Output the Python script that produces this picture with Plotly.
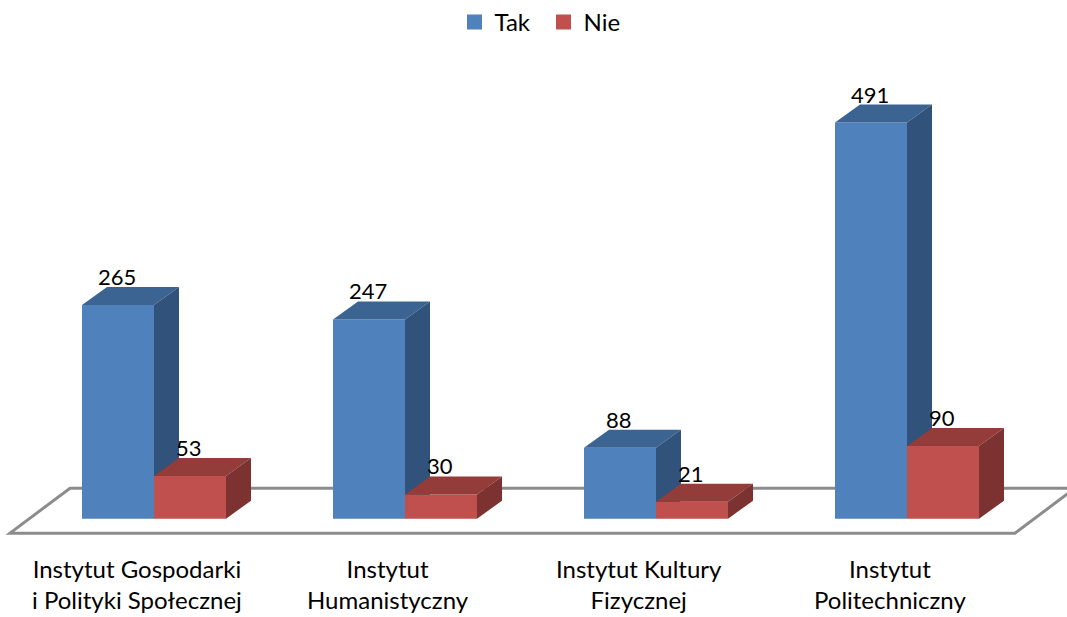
import plotly.graph_objects as go

# --- data ---
categories = [
    "Instytut Gospodarki<br>i Polityki Społecznej",
    "Instytut<br>Humanistyczny",
    "Instytut Kultury<br>Fizycznej",
    "Instytut<br>Politechniczny",
]
series_names = ["Tak", "Nie"]
tak_values = [265, 247, 88, 491]
nie_values = [53, 30, 21, 90]

# --- styling / geometry (axis units) ---
FONT = "Lato"
W, H = 1067, 617
PX_X = 251.0            # pixels per category step
PX_Y = 0.808            # pixels per value unit
BASE_PX = 518.5         # pixel row of value 0
BAR_W = 72 / PX_X       # bar width in category units
DEPTH_X = 25 / PX_X     # 3D depth offset (x)
DEPTH_Y = 18 / PX_Y     # 3D depth offset (y)

x0 = -154 / PX_X
x_range = [x0, x0 + W / PX_X]
y_range = [-(H - BASE_PX) / PX_Y, BASE_PX / PX_Y]

colors = {
    "Tak": {"front": "#4F81BD", "top": "#3C6492", "side": "#31527A"},
    "Nie": {"front": "#C0504D", "top": "#943C3A", "side": "#7B3230"},
}
offsets = {"Tak": -BAR_W, "Nie": 0.0}

fig = go.Figure()

# floor plane outline, drawn beneath all traces
floor_front_y = -(533 - BASE_PX) / PX_Y
floor_back_y = (BASE_PX - 488) / PX_Y
floor_fl = -144 / PX_X
floor_fr = 861 / PX_X
floor_dx = 60 / PX_X
floor_pts = [(floor_fl, floor_front_y), (floor_fl + floor_dx, floor_back_y),
             (floor_fr + floor_dx, floor_back_y), (floor_fr, floor_front_y)]
path = "M " + " L ".join(f"{px},{py}" for px, py in floor_pts) + " Z"
fig.add_shape(type="path", path=path, xref="x", yref="y", layer="below",
              line=dict(color="#8C8C8C", width=3), fillcolor="rgba(0,0,0,0)")


def add_series(name, values, xa, ya):
    c = colors[name]
    off = offsets[name]
    xs = [i + off for i in range(len(values))]
    # front faces as bars
    fig.add_trace(go.Bar(
        x=[i for i in range(len(values))], y=values, base=0,
        width=BAR_W, offset=off, marker=dict(color=c["front"], line=dict(width=0)),
        name=name, showlegend=False, xaxis=xa, yaxis=ya, hoverinfo="skip",
    ))
    # top faces
    tx, ty = [], []
    for xl, v in zip(xs, values):
        xr = xl + BAR_W
        tx += [xl, xr, xr + DEPTH_X, xl + DEPTH_X, xl, None]
        ty += [v, v, v + DEPTH_Y, v + DEPTH_Y, v, None]
    fig.add_trace(go.Scatter(
        x=tx, y=ty, mode="none", fill="toself", fillcolor=c["top"],
        showlegend=False, hoverinfo="skip", xaxis=xa, yaxis=ya,
    ))
    # side faces
    sx, sy = [], []
    for xl, v in zip(xs, values):
        xr = xl + BAR_W
        sx += [xr, xr, xr + DEPTH_X, xr + DEPTH_X, xr, None]
        sy += [0, v, v + DEPTH_Y, DEPTH_Y, 0, None]
    fig.add_trace(go.Scatter(
        x=sx, y=sy, mode="none", fill="toself", fillcolor=c["side"],
        showlegend=False, hoverinfo="skip", xaxis=xa, yaxis=ya,
    ))
    # value labels at the back-left of each top face
    for xl, v in zip(xs, values):
        fig.add_annotation(
            x=xl + DEPTH_X + 10 / PX_X, y=v + DEPTH_Y, xref=xa, yref=ya,
            text=str(v), showarrow=False, yanchor="bottom", xanchor="center",
            yshift=-5, font=dict(family=FONT, size=22, color="black"),
        )
    # legend entry
    fig.add_trace(go.Scatter(
        x=[None], y=[None], mode="markers", name=name,
        marker=dict(symbol="square", size=15, color=c["front"]),
        xaxis=xa, yaxis=ya,
    ))


add_series("Tak", tak_values, "x", "y")
add_series("Nie", nie_values, "x2", "y2")

# category labels below the floor
for i, cat in enumerate(categories):
    fig.add_annotation(
        x=i - 17.5 / PX_X, y=-(552 - BASE_PX) / PX_Y, xref="x", yref="y",
        text=cat, showarrow=False, yanchor="top", xanchor="center",
        font=dict(family=FONT, size=24, color="black"),
    )

axis_common = dict(showgrid=False, zeroline=False, showticklabels=False,
                   showline=False, ticks="", fixedrange=True)
fig.update_layout(
    width=W, height=H,
    margin=dict(l=0, r=0, t=0, b=0),
    paper_bgcolor="white", plot_bgcolor="rgba(0,0,0,0)",
    barmode="overlay",
    xaxis=dict(range=x_range, **axis_common),
    yaxis=dict(range=y_range, **axis_common),
    xaxis2=dict(range=x_range, overlaying="x", **axis_common),
    yaxis2=dict(range=y_range, overlaying="y", **axis_common),
    legend=dict(orientation="h", x=0.5 + 10 / W, xanchor="center",
                y=1.0 + 1 / H, yanchor="top",
                entrywidth=44, entrywidthmode="pixels",
                font=dict(family=FONT, size=24, color="black"),
                bgcolor="rgba(0,0,0,0)"),
    font=dict(family=FONT),
)

fig.write_html("out.html")
